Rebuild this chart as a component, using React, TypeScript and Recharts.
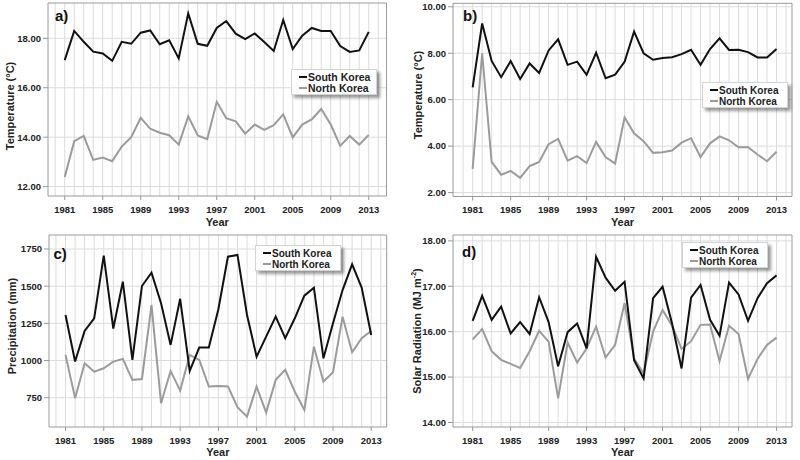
import React from 'react';
import { LineChart, Line, XAxis, YAxis, CartesianGrid, ReferenceArea, Legend } from 'recharts';

const FONT = "'Liberation Sans', Arial, Helvetica, sans-serif";

const years = [1981, 1982, 1983, 1984, 1985, 1986, 1987, 1988, 1989, 1990, 1991, 1992, 1993, 1994, 1995, 1996, 1997, 1998, 1999, 2000, 2001, 2002, 2003, 2004, 2005, 2006, 2007, 2008, 2009, 2010, 2011, 2012, 2013];
const labelYears = [1981, 1985, 1989, 1993, 1997, 2001, 2005, 2009, 2013];
const gridYears = [1980, 1981, 1982, 1983, 1984, 1985, 1986, 1987, 1988, 1989, 1990, 1991, 1992, 1993, 1994, 1995, 1996, 1997, 1998, 1999, 2000, 2001, 2002, 2003, 2004, 2005, 2006, 2007, 2008, 2009, 2010, 2011, 2012, 2013, 2014];
const seriesNames = ['South Korea', 'North Korea'];
const seriesColors = ['#111111', '#9b9b9b'];

// a) mean temperature
const tempSouth = [17.12, 18.30, 17.86, 17.46, 17.39, 17.09, 17.86, 17.78, 18.23, 18.32, 17.76, 17.92, 17.19, 19.01, 17.78, 17.70, 18.42, 18.70, 18.19, 17.97, 18.20, 17.85, 17.49, 18.74, 17.57, 18.11, 18.42, 18.30, 18.30, 17.69, 17.45, 17.51, 18.26];
const tempNorth = [12.39, 13.84, 14.05, 13.08, 13.18, 13.03, 13.62, 14.00, 14.78, 14.34, 14.18, 14.08, 13.70, 14.84, 14.07, 13.92, 15.43, 14.77, 14.64, 14.14, 14.51, 14.30, 14.49, 14.92, 13.99, 14.51, 14.72, 15.14, 14.51, 13.65, 14.05, 13.70, 14.09];
const tempTicks = [12, 14, 16, 18];

// b) minimum temperature
const minSouth = [6.53, 9.28, 7.67, 6.97, 7.66, 6.89, 7.56, 7.15, 8.12, 8.60, 7.50, 7.64, 7.07, 8.02, 6.92, 7.08, 7.63, 8.93, 8.00, 7.72, 7.79, 7.83, 7.96, 8.15, 7.50, 8.18, 8.64, 8.14, 8.15, 8.05, 7.82, 7.82, 8.18];
const minNorth = [3.02, 8.00, 3.32, 2.77, 2.93, 2.63, 3.14, 3.32, 4.08, 4.31, 3.37, 3.57, 3.27, 4.18, 3.53, 3.25, 5.23, 4.55, 4.21, 3.71, 3.74, 3.81, 4.15, 4.34, 3.53, 4.12, 4.42, 4.25, 3.95, 3.95, 3.64, 3.35, 3.76];
const minTicks = [2, 4, 6, 8, 10];

// c) precipitation
const precipSouth = [1306, 993, 1199, 1284, 1705, 1215, 1530, 1005, 1501, 1591, 1385, 1105, 1415, 930, 1087, 1087, 1345, 1698, 1710, 1306, 1026, 1161, 1295, 1150, 1284, 1436, 1490, 1015, 1251, 1474, 1647, 1490, 1172];
const precipNorth = [1038, 747, 982, 925, 948, 993, 1011, 870, 876, 1374, 713, 930, 798, 1038, 1004, 825, 829, 826, 686, 623, 825, 650, 870, 937, 790, 668, 1093, 858, 921, 1295, 1056, 1150, 1199];
const precipTicks = [750, 1000, 1250, 1500, 1750];

// d) solar radiation
const radSouth = [16.24, 16.79, 16.26, 16.55, 15.96, 16.21, 15.95, 16.76, 16.21, 15.24, 15.99, 16.18, 15.63, 17.65, 17.19, 16.90, 17.10, 15.37, 14.97, 16.74, 16.99, 16.18, 15.19, 16.75, 17.03, 16.26, 15.91, 17.08, 16.82, 16.24, 16.74, 17.07, 17.24];
const radNorth = [15.83, 16.06, 15.57, 15.38, 15.29, 15.20, 15.57, 16.02, 15.78, 14.53, 15.76, 15.32, 15.63, 16.11, 15.43, 15.71, 16.63, 15.41, 15.08, 16.00, 16.48, 16.13, 15.62, 15.79, 16.15, 16.16, 15.35, 16.13, 15.95, 14.96, 15.40, 15.71, 15.87];
const radTicks = [14, 15, 16, 17, 18];

function buildRows(south: number[], north: number[]) {
  return years.map((y, i) => ({ year: y, south: south[i], north: north[i] }));
}

function YTitle(props: any) {
  const { ax, ay, ttl, supr, tail } = props;
  return (
    <text
      x={ax}
      y={ay}
      transform={`rotate(-90 ${ax} ${ay})`}
      textAnchor="middle"
      dominantBaseline="central"
      fontFamily={FONT}
      fontSize={11}
      fontWeight="bold"
      fill="#222"
    >
      {ttl}
      {supr ? (
        <tspan fontSize={7} dy={-4}>{supr}</tspan>
      ) : null}
      {tail ? <tspan dy={supr ? 4 : 0}>{tail}</tspan> : null}
    </text>
  );
}

function XTitle(props: any) {
  const { ax, ay } = props;
  return (
    <text x={ax} y={ay} textAnchor="middle" fontFamily={FONT} fontSize={11} fontWeight="bold" fill="#222">
      Year
    </text>
  );
}

function PanelTag(props: any) {
  const { ax, ay, tag } = props;
  return (
    <text x={ax} y={ay} fontFamily={FONT} fontSize={15} fontWeight="bold" fill="#111">
      {tag}
    </text>
  );
}

function LegendBox(props: any) {
  const { fs } = props;
  return (
    <div
      style={{
        background: '#fff',
        border: '1px solid #d4d4d4',
        boxShadow: '3px 3px 3px rgba(0,0,0,0.4)',
        width: 86,
        height: 26,
        boxSizing: 'border-box',
        padding: '1.5px 0 0 7px',
        fontFamily: FONT,
        fontWeight: 'bold',
        fontSize: fs,
        color: '#222',
        whiteSpace: 'nowrap',
      }}
    >
      {seriesNames.map((n, i) => (
        <div key={n} style={{ display: 'flex', alignItems: 'center', height: 11, lineHeight: '11px' }}>
          <span style={{ display: 'inline-block', width: 8, height: 2, background: seriesColors[i], marginRight: 1 }} />
          {n}
        </div>
      ))}
    </div>
  );
}

type PanelCfg = {
  left: number;
  top: number;
  tag: string;
  tagPos: [number, number];
  rows: { year: number; south: number; north: number }[];
  xDomain: [number, number];
  yDomain: [number, number];
  yTicks: number[];
  fmt: (v: number) => string;
  margin: { top: number; right: number; bottom: number; left: number };
  yWidth: number;
  xHeight: number;
  yTitle: { ax: number; ay: number; ttl: string; supr?: string; tail?: string };
  legendPos: [number, number];
  legendFs: number;
};

const W = 400;
const H = 230;

const panels: PanelCfg[] = [
  {
    left: 0,
    top: 0,
    tag: 'a)',
    tagPos: [55, 20.5],
    rows: buildRows(tempSouth, tempNorth),
    xDomain: [1979.24, 2014.87],
    yDomain: [11.62, 19.43],
    yTicks: tempTicks,
    fmt: (v) => v.toFixed(2),
    margin: { top: 3, right: 13.5, bottom: 0, left: 0 },
    yWidth: 48,
    xHeight: 34,
    yTitle: { ax: 9.5, ay: 106, ttl: 'Temperature (°C)' },
    legendPos: [291, 69],
    legendFs: 10.5,
  },
  {
    left: 400,
    top: 0,
    tag: 'b)',
    tagPos: [63, 21],
    rows: buildRows(minSouth, minNorth),
    xDomain: [1978.93, 2014.63],
    yDomain: [1.83, 10.15],
    yTicks: minTicks,
    fmt: (v) => v.toFixed(2),
    margin: { top: 3.3, right: 8, bottom: 0, left: 0 },
    yWidth: 53,
    xHeight: 33.5,
    yTitle: { ax: 17.5, ay: 95, ttl: 'Temperature  (°C)' },
    legendPos: [302, 82],
    legendFs: 10,
  },
  {
    left: 0,
    top: 230,
    tag: 'c)',
    tagPos: [53.5, 28.5],
    rows: buildRows(precipSouth, precipNorth),
    xDomain: [1979.27, 2014.62],
    yDomain: [553, 1844],
    yTicks: precipTicks,
    fmt: (v) => String(v),
    margin: { top: 5, right: 13.3, bottom: 0, left: 0 },
    yWidth: 49,
    xHeight: 33,
    yTitle: { ax: 11.5, ay: 96, ttl: 'Precipitation (mm)' },
    legendPos: [255, 15],
    legendFs: 10,
  },
  {
    left: 400,
    top: 230,
    tag: 'd)',
    tagPos: [62, 27],
    rows: buildRows(radSouth, radNorth),
    xDomain: [1978.93, 2014.63],
    yDomain: [13.9, 18.13],
    yTicks: radTicks,
    fmt: (v) => v.toFixed(2),
    margin: { top: 5, right: 8, bottom: 0, left: 0 },
    yWidth: 53,
    xHeight: 33,
    yTitle: { ax: 17, ay: 101, ttl: 'Solar Radiation (MJ m', supr: '-2', tail: ')' },
    legendPos: [282, 12],
    legendFs: 10,
  },
];

const tickStyle = { fill: '#222', fontSize: 9.5, fontWeight: 'bold' as const, fontFamily: FONT };

function Panel({ p }: { p: PanelCfg }) {
  const plotLeft = p.margin.left + p.yWidth;
  const plotRight = W - p.margin.right;
  const xCenter = (plotLeft + plotRight) / 2;
  return (
    <div style={{ position: 'absolute', left: p.left, top: p.top, width: W, height: H }}>
      <LineChart width={W} height={H} data={p.rows} margin={p.margin}>
        <CartesianGrid stroke="#dcdcdc" strokeWidth={1} verticalValues={gridYears} horizontalValues={p.yTicks} />
        <XAxis
          type="number"
          dataKey="year"
          domain={p.xDomain}
          allowDataOverflow
          ticks={labelYears}
          interval={0}
          height={p.xHeight}
          axisLine={false}
          tickLine={{ stroke: '#999' }}
          tickSize={4}
          tickMargin={6}
          tick={tickStyle}
          label={<XTitle ax={xCenter} ay={225.5} />}
        />
        <YAxis
          type="number"
          domain={p.yDomain}
          allowDataOverflow
          ticks={p.yTicks}
          interval={0}
          width={p.yWidth}
          axisLine={false}
          tickLine={{ stroke: '#999' }}
          tickSize={5}
          tickMargin={2}
          tick={tickStyle}
          tickFormatter={p.fmt}
          label={<YTitle ax={p.yTitle.ax} ay={p.yTitle.ay} ttl={p.yTitle.ttl} supr={p.yTitle.supr} tail={p.yTitle.tail} />}
        />
        <ReferenceArea
          x1={p.xDomain[0]}
          x2={p.xDomain[1]}
          y1={p.yDomain[0]}
          y2={p.yDomain[1]}
          fill="none"
          stroke="#9a9a9a"
          strokeWidth={1}
          ifOverflow="visible"
          label={<PanelTag ax={p.tagPos[0]} ay={p.tagPos[1]} tag={p.tag} />}
        />
        <Line type="linear" dataKey="north" name={seriesNames[1]} stroke={seriesColors[1]} strokeWidth={2} dot={false} isAnimationActive={false} />
        <Line type="linear" dataKey="south" name={seriesNames[0]} stroke={seriesColors[0]} strokeWidth={2} dot={false} isAnimationActive={false} />
        <Legend
          layout="vertical"
          align="center"
          verticalAlign="middle"
          wrapperStyle={{ left: p.legendPos[0], top: p.legendPos[1], width: 'auto', height: 'auto' }}
          content={() => <LegendBox fs={p.legendFs} />}
        />
      </LineChart>
    </div>
  );
}

export default function App() {
  return (
    <div style={{ position: 'absolute', left: 0, top: 0, width: 800, height: 460, background: '#fff', overflow: 'hidden' }}>
      {panels.map((p) => (
        <Panel key={p.tag} p={p} />
      ))}
    </div>
  );
}
